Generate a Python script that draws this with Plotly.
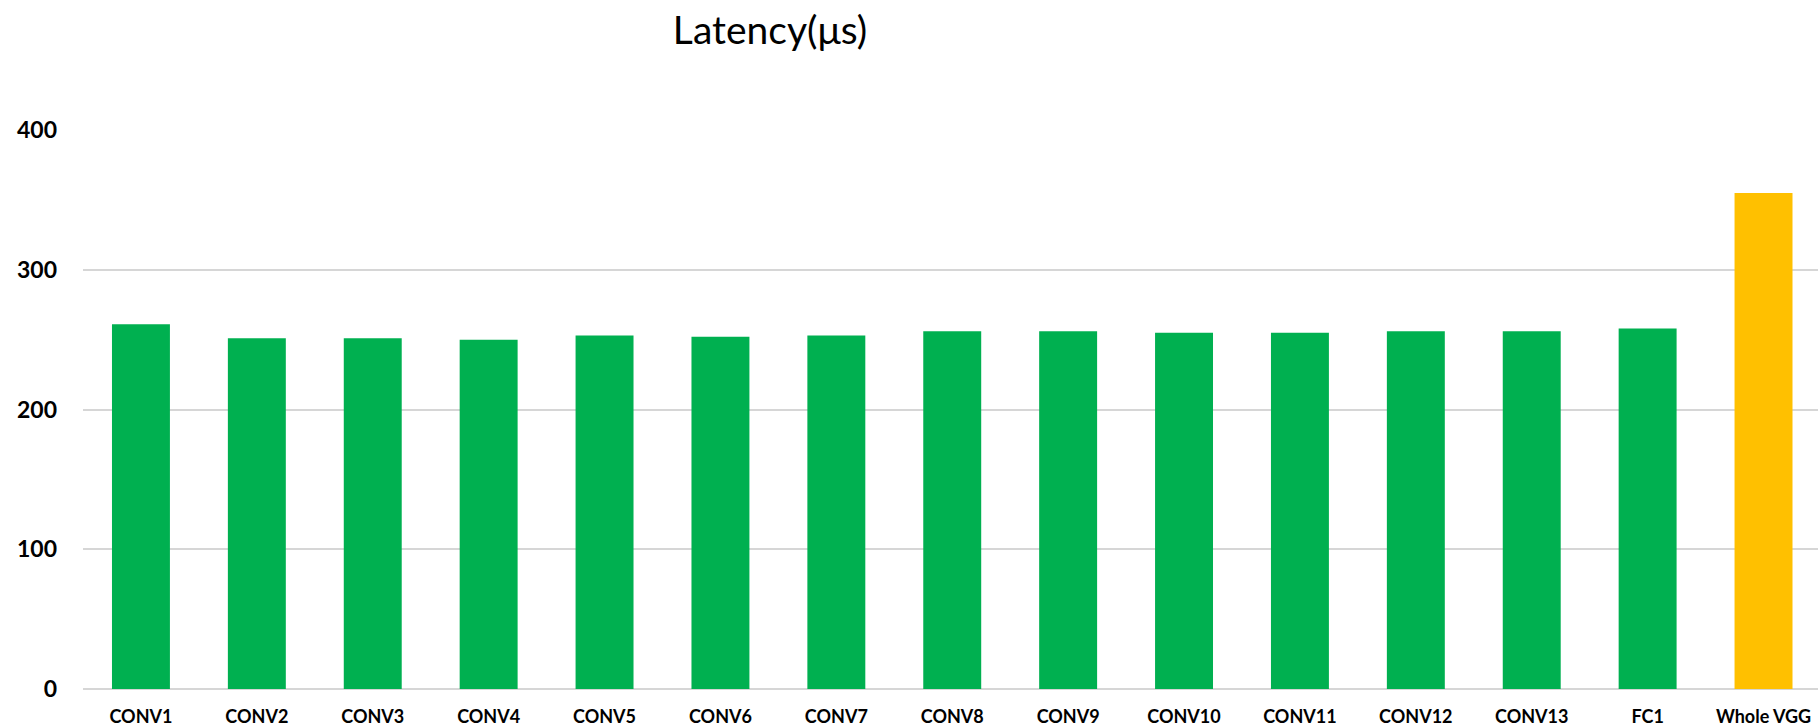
import plotly.graph_objects as go

categories = ["CONV1", "CONV2", "CONV3", "CONV4", "CONV5", "CONV6", "CONV7",
              "CONV8", "CONV9", "CONV10", "CONV11", "CONV12", "CONV13", "FC1", "Whole VGG"]
latency = [261, 251, 251, 250, 253, 252, 253, 256, 256, 255, 255, 256, 256, 258, 355]
bar_colors = ["#00B050"] * 14 + ["#FFC000"]
y_ticks = [0, 100, 200, 300, 400]

W, H = 1818, 728
left, right, top, bottom = 83, 0, 130, 39

fig = go.Figure(go.Bar(
    x=categories, y=latency, marker=dict(color=bar_colors, line=dict(width=0)),
    hoverinfo="x+y",
))

fig.update_layout(
    width=W, height=H,
    margin=dict(l=left, r=right, t=top, b=bottom, pad=0),
    paper_bgcolor="white", plot_bgcolor="white",
    bargap=0.5, showlegend=False,
    font=dict(family="Lato, Open Sans, sans-serif", color="#000000"),
    title=dict(text="Latency(μs)", xref="container", yref="container",
               x=770 / W, y=1 - 30 / H, xanchor="center", yanchor="middle",
               font=dict(size=39, family="Lato, Open Sans, sans-serif", color="#000000")),
)
fig.update_xaxes(
    range=[-0.5, 14.47], showgrid=False, zeroline=False, showline=False,
    ticks="", tickfont=dict(size=18, weight="bold"), ticklabelstandoff=15,
)
fig.update_yaxes(
    range=[0, 400], tickvals=y_ticks, showgrid=True, gridcolor="#D6D6D6", gridwidth=1.6,
    zeroline=True, zerolinecolor="#D6D6D6", zerolinewidth=1.8, showline=False,
    ticks="", tickfont=dict(size=23, weight="bold"), ticklabelstandoff=25,
)

fig.write_html("out.html")
